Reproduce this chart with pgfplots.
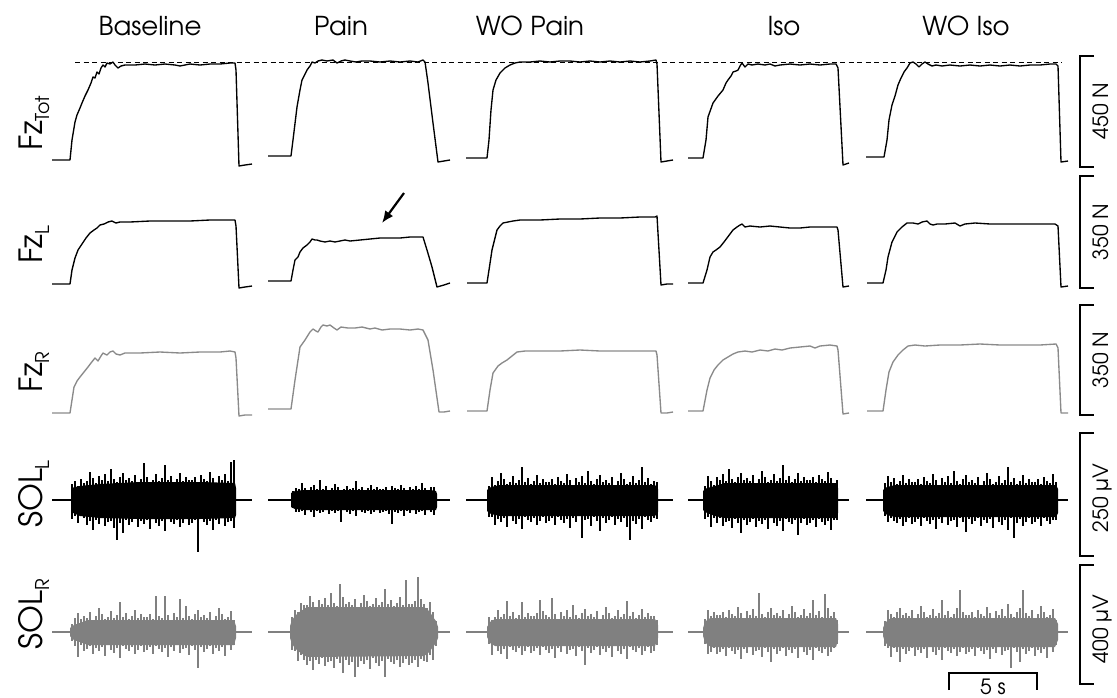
\documentclass[border=0pt]{standalone}
\usepackage{fontspec}
\setmainfont{TeX Gyre Adventor}
\usepackage{pgfplots}
\pgfplotsset{compat=1.18}
\usetikzlibrary{arrows.meta}

\definecolor{fzr}{HTML}{8A8A8A}
\definecolor{emgr}{HTML}{808080}

\newcommand\sub[1]{\raisebox{-0.22em}{\fontsize{19}{20}\selectfont #1}}

\pgfplotsset{
  emg/.style={draw=none, mark=none, forget plot, error bars/.cd, y dir=both, y explicit,
    error mark=none, error bar style={draw=#1, line width=1.2pt, solid}},
  force/.style={line width=1.35pt, #1, line join=round},
}

\begin{document}
\begin{tikzpicture}
\begin{axis}[
  at={(0,0)}, anchor=south west,
  scale only axis, width=1117pt, height=697pt,
  xmin=0, xmax=1117, ymin=0, ymax=697, y dir=reverse,
  hide axis, clip=false, unbounded coords=jump,
]

% ---------- column titles
\node[anchor=base] at (axis cs:150,35) {\fontsize{26}{30}\selectfont Baseline};
\node[anchor=base] at (axis cs:341,35) {\fontsize{26}{30}\selectfont Pain};
\node[anchor=base] at (axis cs:530,35) {\fontsize{26}{30}\selectfont WO Pain};
\node[anchor=base] at (axis cs:784,35) {\fontsize{26}{30}\selectfont Iso};
\node[anchor=base] at (axis cs:966,35) {\fontsize{26}{30}\selectfont WO Iso};

% ---------- row labels
\node[rotate=90, anchor=base] at (axis cs:42,123) {\fontsize{32}{36}\selectfont Fz\sub{Tot}};
\node[rotate=90, anchor=base] at (axis cs:42,245) {\fontsize{32}{36}\selectfont Fz\sub{L}};
\node[rotate=90, anchor=base] at (axis cs:42,372) {\fontsize{32}{36}\selectfont Fz\sub{R}};
\node[rotate=90, anchor=base] at (axis cs:42,494) {\fontsize{32}{36}\selectfont SOL\sub{L}};
\node[rotate=90, anchor=base] at (axis cs:42,614) {\fontsize{32}{36}\selectfont SOL\sub{R}};

% ---------- reference level
\addplot[dash pattern=on 5pt off 3.5pt, line width=1pt] coordinates {(75,62)(1062,62)};

% ---------- Fz total
\addplot[force=black] coordinates {
(52,160)(70,160)(72,140)(75,122)(77,115)(80,108)(82,103)(85,96)(88,90)(91,83)(93,77)(95,78)(97,72)(99,74)(101,68)(103,65)(105,67)(107,63)(110,64)(113,62)(115,65)(118,68)(121,66)(125,65)(135,65)(145,64)(155,65)(165,64)(175,65)(180,66)(190,64)(200,65)(210,64)(220,64)(230,63)(235,63)(236,70)(239,166)(245,165)(252,164)(252,nan)
(268,156)(291,156)(293,140)(297,107)(300,90)(302,80)(305,74)(307,70)(310,66)(312,62)(315,63)(318,61)(322,60)(327,61)(333,60)(337,63)(341,61)(345,60)(350,61)(356,62)(362,61)(370,61)(380,62)(390,61)(400,62)(410,61)(418,62)(423,60)(425,62)(428,83)(433,123)(438,162)(444,161)(450,160)(450,nan)
(466,158)(487,158)(489,140)(491,110)(493,90)(496,80)(500,73)(505,68)(510,65)(515,63)(520,62)(530,62)(540,61)(550,62)(560,61)(570,61)(580,62)(590,61)(600,62)(610,61)(620,62)(630,61)(640,62)(650,61)(656,60)(657,64)(661,162)(667,161)(673,160)(673,nan)
(688,158)(703,158)(706,140)(708,117)(713,103)(718,96)(723,90)(726,83)(728,80)(731,76)(733,72)(736,71)(738,70)(740,66)(742,63)(745,67)(748,64)(752,65)(758,64)(765,65)(770,64)(775,66)(780,65)(790,64)(800,65)(810,64)(820,65)(830,64)(836,64)(838,68)(843,165)(849,163)(849,nan)
(866,157)(884,157)(887,140)(889,120)(892,105)(895,96)(898,85)(901,78)(904,72)(907,68)(910,63)(913,62)(916,64)(919,67)(922,64)(925,62)(928,64)(932,66)(936,65)(942,66)(950,65)(960,66)(970,65)(980,66)(990,65)(1000,66)(1010,65)(1020,66)(1030,65)(1040,65)(1050,64)(1056,64)(1058,66)(1061,162)(1068,161)
};

% ---------- Fz left
\addplot[force=black] coordinates {
(52,284)(70,284)(72,270)(75,258)(78,250)(82,244)(86,238)(90,233)(94,230)(97,228)(100,225)(104,224)(108,222)(112,221)(116,223)(120,222)(130,222)(150,221)(170,221)(190,221)(210,220)(230,220)(235,220)(236,226)(239,288)(245,287)(252,286)(252,nan)
(268,281)(291,281)(293,270)(295,260)(298,257)(300,252)(303,248)(307,245)(310,242)(312,239)(315,240)(317,240)(320,241)(325,242)(330,241)(335,242)(340,241)(345,240)(350,241)(360,240)(370,239)(380,238)(390,238)(400,238)(410,237)(420,237)(423,237)(427,250)(432,267)(437,287)(444,285)(450,283)(450,nan)
(467,283)(487,283)(489,270)(492,250)(495,238)(497,230)(500,226)(503,223)(508,222)(513,221)(520,220)(540,220)(560,219)(580,219)(600,218)(620,218)(640,217)(655,217)(657,216)(661,285)(667,284)(673,284)(673,nan)
(688,283)(703,283)(707,270)(710,257)(713,252)(716,250)(720,247)(724,242)(727,238)(730,234)(733,230)(737,227)(740,225)(742,224)(745,227)(750,226)(760,227)(770,226)(780,227)(790,228)(800,228)(810,227)(820,227)(830,227)(837,227)(838,230)(843,287)(849,286)(849,nan)
(867,283)(883,283)(886,270)(888,257)(892,242)(897,232)(902,227)(907,223)(913,223)(918,224)(922,222)(927,221)(930,224)(933,225)(937,224)(945,224)(955,223)(960,226)(965,224)(975,223)(990,224)(1005,224)(1020,224)(1040,224)(1055,224)(1058,226)(1061,287)(1068,286)
};
\addplot[-{Latex[length=12pt,width=10pt]}, line width=2.2pt] coordinates {(404,193)(382,223)};

% ---------- Fz right
\addplot[force=fzr] coordinates {
(52,413)(70,413)(72,400)(74,387)(77,381)(80,377)(84,372)(88,367)(91,363)(95,358)(98,361)(101,356)(103,353)(107,355)(110,352)(113,351)(116,354)(120,355)(125,353)(140,353)(160,352)(180,353)(200,352)(220,352)(230,351)(235,352)(236,358)(239,416)(245,415)(252,415)(252,nan)
(268,409)(291,409)(295,380)(300,347)(305,340)(310,332)(313,329)(316,331)(318,332)(321,327)(323,325)(327,326)(330,325)(334,328)(337,330)(341,327)(348,328)(355,328)(362,327)(370,329)(375,328)(382,330)(390,329)(400,329)(410,330)(418,329)(423,330)(428,340)(433,370)(439,412)(444,412)(450,411)(450,nan)
(467,411)(487,411)(490,390)(493,373)(498,366)(502,363)(507,360)(512,356)(517,352)(525,351)(540,351)(560,351)(580,350)(600,351)(620,351)(640,351)(656,351)(657,355)(661,413)(667,413)(673,412)(673,nan)
(688,411)(703,411)(707,390)(710,378)(714,370)(718,365)(723,360)(728,357)(733,354)(738,352)(745,351)(752,352)(760,350)(768,351)(775,349)(782,350)(790,348)(800,347)(810,346)(815,348)(820,346)(830,345)(837,346)(838,350)(843,414)(849,413)(849,nan)
(867,411)(883,411)(886,390)(889,372)(893,362)(898,355)(903,350)(908,346)(915,345)(925,346)(940,345)(960,345)(980,344)(1000,345)(1020,345)(1040,345)(1056,344)(1058,348)(1061,413)(1068,413)
};

% ---------- SOL left (black EMG): rest lines, dense body, spikes (x, centre, up, down)
\addplot[line width=2.2pt, black] coordinates {(52,500)(72,500)(72,nan)(235,500)(252,500)(252,nan)(268,500)(292,500)(292,nan)(436,500)(450,500)(450,nan)(466,500)(488,500)(488,nan)(657,500)(673,500)(673,nan)(688,500)(704,500)(704,nan)(837,500)(849,500)(849,nan)(866,500)(884,500)(884,nan)(1057,500)(1068,500)};
\addplot[fill=black, draw=none] coordinates {(71,488)(80,486)(100,484)(140,482)(200,482)(235,483)(236,488)(236,515)(235,518)(200,519)(140,519)(100,518)(80,516)(71,512)};
\addplot[fill=black, draw=none] coordinates {(291,493)(295,491)(305,490)(430,490)(436,491)(437,494)(437,507)(436,510)(430,510)(305,510)(295,509)(291,507)};
\addplot[fill=black, draw=none] coordinates {(487,490)(491,487)(500,485)(655,485)(658,489)(658,512)(655,516)(500,516)(491,514)(487,511)};
\addplot[fill=black, draw=none] coordinates {(703,491)(707,488)(715,486)(725,483)(836,483)(838,488)(838,513)(836,518)(725,518)(715,516)(707,513)(703,510)};
\addplot[fill=black, draw=none] coordinates {(883,490)(887,487)(895,485)(1056,485)(1058,489)(1058,513)(1056,517)(895,517)(887,515)(883,511)};

\addplot[emg=black] table[row sep=\\, y error plus=d, y error minus=u] {x y u d\\
72 500 16 19\\ 75 500 19 16\\ 78 500 14 23\\ 81 500 21 15\\ 84 500 17 18\\ 87 500 19 25\\ 90 500 28 21\\ 93 500 22 30\\ 96 500 17 20\\ 99 500 24 24\\
102 500 20 18\\ 105 500 26 26\\ 108 500 19 22\\ 111 500 31 21\\ 114 500 21 28\\ 117 500 18 40\\ 120 500 23 23\\ 123 500 27 33\\ 126 500 20 20\\ 129 500 22 25\\
132 500 19 22\\ 135 500 25 19\\ 138 500 17 27\\ 141 500 21 21\\ 144 500 37 24\\ 147 500 23 20\\ 150 500 18 29\\ 153 500 20 18\\ 156 500 26 23\\ 159 500 19 26\\
162 500 22 21\\ 165 500 35 31\\ 168 500 20 19\\ 171 500 24 22\\ 174 500 18 24\\ 177 500 21 20\\ 180 500 27 27\\ 183 500 19 23\\ 186 500 23 19\\ 189 500 20 25\\
192 500 20 23\\ 195 500 23 20\\ 198 500 18 52\\ 201 500 25 19\\ 204 500 21 22\\ 207 500 19 25\\ 210 500 28 21\\ 213 500 22 30\\ 216 500 17 20\\ 219 500 24 24\\
222 500 20 18\\ 225 500 26 26\\ 228 500 19 22\\ 231 500 38 21\\ 234 500 40 28\\
};
\addplot[emg=black] table[row sep=\\, y error plus=d, y error minus=u] {x y u d\\
293 500 9 8\\ 296 500 12 12\\ 299 500 11 12\\ 302 500 17 11\\ 305 500 12 15\\ 308 500 10 10\\ 311 500 13 12\\ 314 500 15 17\\ 317 500 11 11\\ 320 500 20 13\\
323 500 11 12\\ 326 500 14 10\\ 329 500 10 14\\ 332 500 12 11\\ 335 500 16 13\\ 338 500 13 11\\ 341 500 10 22\\ 344 500 11 10\\ 347 500 14 12\\ 350 500 11 14\\
353 500 12 11\\ 356 500 19 16\\ 359 500 11 10\\ 362 500 13 12\\ 365 500 10 13\\ 368 500 12 11\\ 371 500 15 14\\ 374 500 11 12\\ 377 500 13 10\\ 380 500 11 13\\
383 500 11 12\\ 386 500 13 11\\ 389 500 10 14\\ 392 500 14 24\\ 395 500 12 12\\ 398 500 11 13\\ 401 500 15 11\\ 404 500 12 16\\ 407 500 10 11\\ 410 500 13 13\\
413 500 11 10\\ 416 500 14 14\\ 419 500 11 12\\ 422 500 17 11\\ 425 500 12 15\\ 428 500 10 10\\ 431 500 13 12\\ 434 500 13 15\\
};
\addplot[emg=black] table[row sep=\\, y error plus=d, y error minus=u] {x y u d\\
489 500 14 17\\ 492 500 23 17\\ 495 500 15 25\\ 498 500 19 19\\ 501 500 27 22\\ 504 500 21 18\\ 507 500 16 27\\ 510 500 18 16\\ 513 500 24 21\\ 516 500 17 24\\
519 500 20 19\\ 522 500 33 29\\ 525 500 18 17\\ 528 500 22 20\\ 531 500 16 22\\ 534 500 19 18\\ 537 500 25 25\\ 540 500 17 21\\ 543 500 21 17\\ 546 500 18 23\\
549 500 18 21\\ 552 500 21 18\\ 555 500 16 25\\ 558 500 23 17\\ 561 500 19 20\\ 564 500 17 23\\ 567 500 26 19\\ 570 500 20 28\\ 573 500 15 18\\ 576 500 22 22\\
579 500 18 16\\ 582 500 24 38\\ 585 500 17 20\\ 588 500 29 19\\ 591 500 19 26\\ 594 500 16 17\\ 597 500 21 21\\ 600 500 25 31\\ 603 500 18 18\\ 606 500 20 23\\
609 500 17 20\\ 612 500 23 17\\ 615 500 15 25\\ 618 500 19 19\\ 621 500 27 22\\ 624 500 21 18\\ 627 500 16 27\\ 630 500 18 40\\ 633 500 24 21\\ 636 500 17 24\\
639 500 20 19\\ 642 500 33 29\\ 645 500 18 17\\ 648 500 22 20\\ 651 500 16 22\\ 654 500 19 18\\ 657 500 18 19\\
};
\addplot[emg=black] table[row sep=\\, y error plus=d, y error minus=u] {x y u d\\
705 500 14 19\\ 708 500 24 17\\ 711 500 19 27\\ 714 500 15 18\\ 717 500 23 23\\ 720 500 20 18\\ 723 500 26 26\\ 726 500 19 22\\ 729 500 31 21\\ 732 500 21 28\\
735 500 18 19\\ 738 500 23 23\\ 741 500 27 33\\ 744 500 20 20\\ 747 500 22 25\\ 750 500 19 22\\ 753 500 25 19\\ 756 500 17 27\\ 759 500 21 21\\ 762 500 29 24\\
765 500 23 20\\ 768 500 18 29\\ 771 500 20 18\\ 774 500 26 23\\ 777 500 19 26\\ 780 500 22 21\\ 783 500 35 31\\ 786 500 20 19\\ 789 500 24 22\\ 792 500 18 24\\
795 500 21 20\\ 798 500 27 35\\ 801 500 19 23\\ 804 500 23 19\\ 807 500 20 25\\ 810 500 20 23\\ 813 500 23 20\\ 816 500 18 27\\ 819 500 25 19\\ 822 500 21 22\\
825 500 19 25\\ 828 500 28 21\\ 831 500 22 30\\ 834 500 17 20\\ 837 500 20 20\\
};
\addplot[emg=black] table[row sep=\\, y error plus=d, y error minus=u] {x y u d\\
885 500 17 16\\ 888 500 24 22\\ 891 500 18 18\\ 894 500 22 21\\ 897 500 16 23\\ 900 500 19 19\\ 903 500 25 26\\ 906 500 17 22\\ 909 500 21 18\\ 912 500 18 24\\
915 500 18 22\\ 918 500 21 19\\ 921 500 16 26\\ 924 500 23 18\\ 927 500 19 21\\ 930 500 17 24\\ 933 500 26 20\\ 936 500 20 29\\ 939 500 15 19\\ 942 500 22 23\\
945 500 18 17\\ 948 500 24 25\\ 951 500 17 21\\ 954 500 29 20\\ 957 500 19 27\\ 960 500 16 18\\ 963 500 21 22\\ 966 500 25 32\\ 969 500 18 19\\ 972 500 20 24\\
975 500 17 21\\ 978 500 23 18\\ 981 500 15 26\\ 984 500 19 20\\ 987 500 27 23\\ 990 500 21 19\\ 993 500 16 28\\ 996 500 18 17\\ 999 500 24 22\\ 1002 500 17 25\\
1005 500 20 20\\ 1008 500 33 30\\ 1011 500 18 18\\ 1014 500 22 38\\ 1017 500 16 23\\ 1020 500 19 19\\ 1023 500 25 26\\ 1026 500 17 22\\ 1029 500 21 18\\ 1032 500 18 24\\
1035 500 18 22\\ 1038 500 21 19\\ 1041 500 16 26\\ 1044 500 23 18\\ 1047 500 19 21\\ 1050 500 17 24\\ 1053 500 26 20\\ 1056 500 18 20\\
};

% ---------- SOL right (grey EMG)
\addplot[line width=2.2pt, emgr] coordinates {(52,632)(72,632)(72,nan)(235,632)(252,632)(252,nan)(268,632)(292,632)(292,nan)(436,632)(450,632)(450,nan)(466,632)(488,632)(488,nan)(657,632)(673,632)(673,nan)(688,632)(704,632)(704,nan)(837,632)(849,632)(849,nan)(866,632)(884,632)(884,nan)(1057,632)(1068,632)};
\addplot[fill=emgr, draw=none] coordinates {(70,628)(74,625)(88,620)(234,620)(236,626)(236,638)(234,645)(88,645)(74,640)(70,636)};
\addplot[fill=emgr, draw=none] coordinates {(290,626)(292,620)(295,616)(298,613)(301,611)(304,609)(307,607)(424,607)(427,609)(430,612)(433,617)(436,621)(438,627)(438,638)(436,643)(433,647)(430,651)(427,654)(424,656)(307,657)(304,655)(301,653)(298,651)(295,648)(292,644)(290,638)};
\addplot[fill=emgr, draw=none] coordinates {(487,627)(490,622)(495,619)(655,619)(658,625)(658,638)(655,646)(495,646)(490,643)(487,637)};
\addplot[fill=emgr, draw=none] coordinates {(703,628)(705,622)(708,619)(711,618)(836,618)(838,624)(838,640)(836,647)(711,647)(708,645)(705,642)(703,636)};
\addplot[fill=emgr, draw=none] coordinates {(883,628)(885,623)(888,620)(891,618)(1055,618)(1058,624)(1058,640)(1055,647)(891,647)(888,645)(885,642)(883,636)};

\addplot[emg=emgr] table[row sep=\\, y error plus=d, y error minus=u] {x y u d\\
72 632 8 9\\ 75 632 14 14\\ 78 632 19 25\\ 81 632 13 13\\ 84 632 16 19\\ 87 632 14 17\\ 90 632 20 14\\ 93 632 12 22\\ 96 632 16 16\\ 99 632 24 19\\
102 632 18 15\\ 105 632 13 24\\ 108 632 15 13\\ 111 632 21 18\\ 114 632 14 21\\ 117 632 17 16\\ 120 632 30 26\\ 123 632 15 14\\ 126 632 19 17\\ 129 632 13 19\\
132 632 16 15\\ 135 632 22 22\\ 138 632 14 18\\ 141 632 18 14\\ 144 632 15 20\\ 147 632 15 18\\ 150 632 18 15\\ 153 632 13 22\\ 156 632 36 14\\ 159 632 16 17\\
162 632 14 20\\ 165 632 36 16\\ 168 632 17 25\\ 171 632 12 15\\ 174 632 19 19\\ 177 632 15 13\\ 180 632 33 21\\ 183 632 14 17\\ 186 632 26 16\\ 189 632 16 23\\
192 632 13 14\\ 195 632 18 18\\ 198 632 22 36\\ 201 632 15 15\\ 204 632 17 20\\ 207 632 14 17\\ 210 632 20 14\\ 213 632 12 22\\ 216 632 16 16\\ 219 632 24 19\\
222 632 18 15\\ 225 632 13 24\\ 228 632 15 13\\ 231 632 21 18\\ 234 632 12 13\\
};
\addplot[emg=emgr] table[row sep=\\, y error plus=d, y error minus=u] {x y u d\\
292 632 15 18\\ 295 632 22 19\\ 298 632 20 29\\ 301 632 29 23\\ 304 632 27 28\\ 307 632 27 33\\ 310 632 36 29\\ 313 632 30 38\\ 316 632 25 28\\ 319 632 32 32\\
322 632 28 26\\ 325 632 34 34\\ 328 632 27 30\\ 331 632 39 29\\ 334 632 29 36\\ 337 632 26 27\\ 340 632 48 31\\ 343 632 35 41\\ 346 632 28 28\\ 349 632 30 33\\
352 632 27 30\\ 355 632 33 45\\ 358 632 25 35\\ 361 632 29 29\\ 364 632 37 32\\ 367 632 31 28\\ 370 632 26 37\\ 373 632 28 26\\ 376 632 34 31\\ 379 632 27 34\\
382 632 30 29\\ 385 632 43 45\\ 388 632 28 27\\ 391 632 32 30\\ 394 632 26 32\\ 397 632 29 28\\ 400 632 35 35\\ 403 632 27 31\\ 406 632 52 27\\ 409 632 28 33\\
412 632 28 31\\ 415 632 31 28\\ 418 632 55 35\\ 421 632 33 27\\ 424 632 28 29\\ 427 632 24 30\\ 430 632 30 23\\ 433 632 20 28\\ 436 632 11 14\\
};
\addplot[emg=emgr] table[row sep=\\, y error plus=d, y error minus=u] {x y u d\\
489 632 15 12\\ 492 632 12 23\\ 495 632 15 13\\ 498 632 22 19\\ 501 632 15 22\\ 504 632 18 17\\ 507 632 31 27\\ 510 632 16 15\\ 513 632 20 18\\ 516 632 14 20\\
519 632 17 16\\ 522 632 30 23\\ 525 632 15 19\\ 528 632 19 15\\ 531 632 16 21\\ 534 632 16 19\\ 537 632 19 16\\ 540 632 32 23\\ 543 632 21 15\\ 546 632 17 18\\
549 632 15 21\\ 552 632 34 17\\ 555 632 18 26\\ 558 632 13 16\\ 561 632 20 20\\ 564 632 16 14\\ 567 632 22 22\\ 570 632 15 18\\ 573 632 27 17\\ 576 632 17 24\\
579 632 14 15\\ 582 632 19 19\\ 585 632 23 33\\ 588 632 16 16\\ 591 632 18 21\\ 594 632 15 18\\ 597 632 21 15\\ 600 632 13 23\\ 603 632 17 17\\ 606 632 25 20\\
609 632 19 16\\ 612 632 14 25\\ 615 632 16 14\\ 618 632 22 19\\ 621 632 15 22\\ 624 632 18 17\\ 627 632 31 27\\ 630 632 16 15\\ 633 632 20 18\\ 636 632 14 20\\
639 632 17 16\\ 642 632 23 23\\ 645 632 15 19\\ 648 632 19 15\\ 651 632 16 21\\ 654 632 16 19\\ 657 632 12 13\\
};
\addplot[emg=emgr] table[row sep=\\, y error plus=d, y error minus=u] {x y u d\\
705 632 13 12\\ 708 632 22 22\\ 711 632 16 20\\ 714 632 20 16\\ 717 632 17 22\\ 720 632 17 20\\ 723 632 20 17\\ 726 632 15 24\\ 729 632 22 16\\ 732 632 18 19\\
735 632 16 22\\ 738 632 25 18\\ 741 632 19 27\\ 744 632 14 17\\ 747 632 21 21\\ 750 632 17 15\\ 753 632 23 23\\ 756 632 16 19\\ 759 632 39 18\\ 762 632 18 25\\
765 632 15 16\\ 768 632 20 20\\ 771 632 24 30\\ 774 632 17 17\\ 777 632 19 22\\ 780 632 16 19\\ 783 632 22 16\\ 786 632 14 24\\ 789 632 18 18\\ 792 632 26 21\\
795 632 20 17\\ 798 632 15 26\\ 801 632 17 15\\ 804 632 23 20\\ 807 632 16 23\\ 810 632 19 18\\ 813 632 32 28\\ 816 632 17 16\\ 819 632 21 19\\ 822 632 15 21\\
825 632 38 17\\ 828 632 24 24\\ 831 632 16 20\\ 834 632 20 16\\ 837 632 12 12\\
};
\addplot[emg=emgr] table[row sep=\\, y error plus=d, y error minus=u] {x y u d\\
885 632 11 14\\ 888 632 22 16\\ 891 632 18 25\\ 894 632 15 16\\ 897 632 20 20\\ 900 632 24 30\\ 903 632 17 17\\ 906 632 19 22\\ 909 632 16 19\\ 912 632 22 16\\
915 632 14 24\\ 918 632 18 18\\ 921 632 26 21\\ 924 632 20 17\\ 927 632 15 26\\ 930 632 17 15\\ 933 632 23 20\\ 936 632 16 23\\ 939 632 19 18\\ 942 632 32 28\\
945 632 17 16\\ 948 632 21 19\\ 951 632 15 21\\ 954 632 18 17\\ 957 632 24 24\\ 960 632 42 20\\ 963 632 20 16\\ 966 632 17 22\\ 969 632 17 20\\ 972 632 20 17\\
975 632 15 24\\ 978 632 22 16\\ 981 632 18 19\\ 984 632 16 22\\ 987 632 25 18\\ 990 632 19 27\\ 993 632 14 17\\ 996 632 21 21\\ 999 632 17 15\\ 1002 632 23 23\\
1005 632 16 19\\ 1008 632 28 18\\ 1011 632 18 36\\ 1014 632 15 16\\ 1017 632 20 20\\ 1020 632 24 30\\ 1023 632 42 17\\ 1026 632 19 22\\ 1029 632 16 19\\ 1032 632 22 16\\
1035 632 14 24\\ 1038 632 18 18\\ 1041 632 26 21\\ 1044 632 20 17\\ 1047 632 15 26\\ 1050 632 17 15\\ 1053 632 23 20\\ 1056 632 12 13\\
};

% ---------- scale bars
\addplot[line width=1.2pt] coordinates {(1094,56)(1080,56)(1080,167)(1094,167)};
\addplot[line width=1.2pt] coordinates {(1094,176)(1080,176)(1080,288)(1094,288)};
\addplot[line width=1.2pt] coordinates {(1094,305)(1080,305)(1080,415)(1094,415)};
\addplot[line width=1.2pt] coordinates {(1094,433)(1080,433)(1080,556)(1094,556)};
\addplot[line width=1.2pt] coordinates {(1094,565)(1080,565)(1080,684)(1094,684)};
\addplot[line width=1.2pt] coordinates {(949,690)(949,673)(1037,673)(1037,690)};

\node[rotate=90, anchor=base] at (axis cs:1108,111) {\fontsize{21}{24}\selectfont 450 N};
\node[rotate=90, anchor=base] at (axis cs:1108,232) {\fontsize{21}{24}\selectfont 350 N};
\node[rotate=90, anchor=base] at (axis cs:1108,360) {\fontsize{21}{24}\selectfont 350 N};
\node[rotate=90, anchor=base] at (axis cs:1108,498) {\fontsize{21}{24}\selectfont 250 µV};
\node[rotate=90, anchor=base] at (axis cs:1108,629) {\fontsize{21}{24}\selectfont 400 µV};
\node[anchor=base] at (axis cs:993,694) {\fontsize{21}{24}\selectfont 5 s};

\end{axis}
\pgfresetboundingbox
\path[use as bounding box] (current axis.south west) rectangle (current axis.north east);
\end{tikzpicture}
\end{document}
